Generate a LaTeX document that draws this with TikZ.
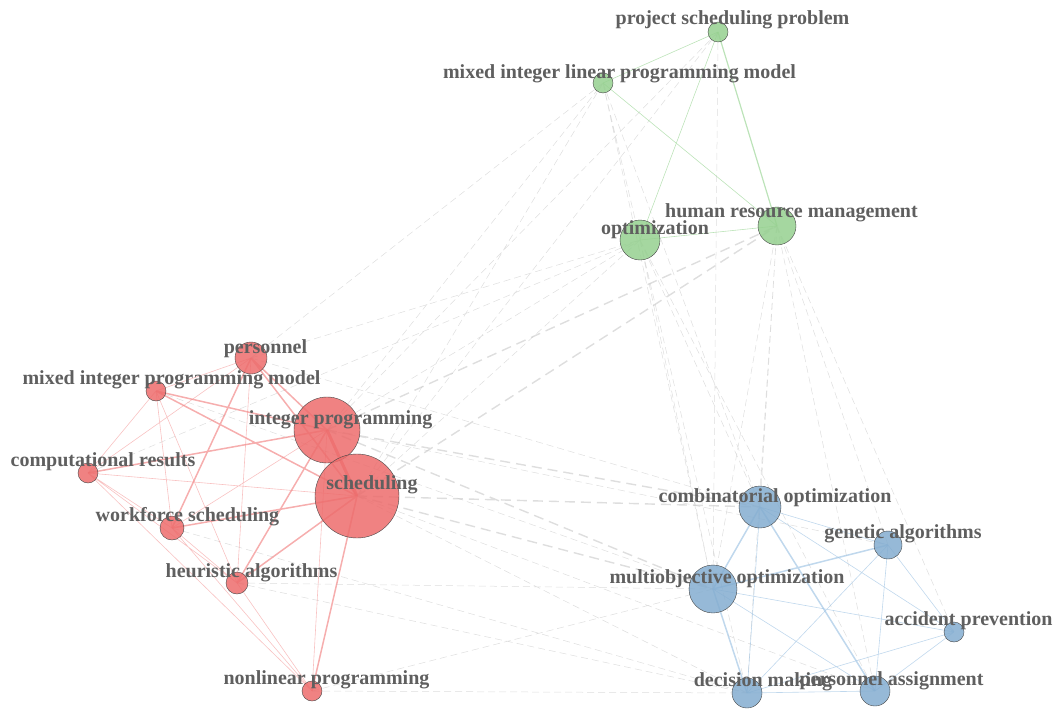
\documentclass[tikz,border=0pt]{standalone}
\usepackage{fontspec}
\setmainfont{Liberation Serif}
\usepackage{tikz}
\usetikzlibrary{backgrounds}
\definecolor{redNodeCol}{RGB}{237,108,108}
\definecolor{blueNodeCol}{RGB}{132,173,208}
\definecolor{greenNodeCol}{RGB}{149,208,143}
\definecolor{nodeLineCol}{RGB}{70,70,70}
\definecolor{labelCol}{RGB}{95,95,95}
\definecolor{redEdgeCol}{RGB}{240,120,120}
\definecolor{blueEdgeCol}{RGB}{150,190,225}
\definecolor{greenEdgeCol}{RGB}{160,215,155}
\definecolor{grayEdgeCol}{RGB}{200,200,200}
\tikzset{myNode/.style={circle, inner sep=0pt, draw=nodeLineCol, line width=0.4pt, fill opacity=0.85}}
\tikzset{myRed/.style={myNode, fill=redNodeCol}}
\tikzset{myBlue/.style={myNode, fill=blueNodeCol}}
\tikzset{myGreen/.style={myNode, fill=greenNodeCol}}
\tikzset{myLabel/.style={font=\fontsize{20}{24}\selectfont\bfseries, text=labelCol, anchor=base, inner sep=0pt}}
\tikzset{myRedEdge/.style={draw=redEdgeCol, draw opacity=0.45, line width=0.6pt}}
\tikzset{myBlueEdge/.style={draw=blueEdgeCol, draw opacity=0.6, line width=0.6pt}}
\tikzset{myGreenEdge/.style={draw=greenEdgeCol, draw opacity=0.7, line width=0.6pt}}
\tikzset{myGrayEdge/.style={draw=grayEdgeCol, draw opacity=0.6, line width=0.5pt, dash pattern=on 7pt off 4pt}}

\begin{document}
\begin{tikzpicture}[x=1pt,y=-1pt]
	\useasboundingbox (0,0) rectangle (1055,709);

	% red cluster
	\node[myRed, minimum size=32pt] (per) at (251,358) {};
	\node[myRed, minimum size=20pt] (mipm) at (156,391) {};
	\node[myRed, minimum size=66pt] (ipg) at (327,430) {};
	\node[myRed, minimum size=20pt] (comp) at (88,473) {};
	\node[myRed, minimum size=84pt] (sch) at (357,496) {};
	\node[myRed, minimum size=24pt] (wfs) at (172,528) {};
	\node[myRed, minimum size=22pt] (heu) at (237,583) {};
	\node[myRed, minimum size=20pt] (nlp) at (312,691) {};

	% blue cluster
	\node[myBlue, minimum size=42pt] (cmb) at (760,507) {};
	\node[myBlue, minimum size=28pt] (gen) at (888,545) {};
	\node[myBlue, minimum size=48pt] (mob) at (713,589) {};
	\node[myBlue, minimum size=20pt] (acc) at (954,632) {};
	\node[myBlue, minimum size=30pt] (dec) at (747,693) {};
	\node[myBlue, minimum size=30pt] (pas) at (875,691) {};

	% green cluster
	\node[myGreen, minimum size=20pt] (psp) at (718,32) {};
	\node[myGreen, minimum size=20pt] (milp) at (603,83) {};
	\node[myGreen, minimum size=40pt] (opt) at (640,240) {};
	\node[myGreen, minimum size=38pt] (hrm) at (777,226) {};

	\begin{scope}[on background layer]
	%links between clusters
	\draw[myGrayEdge] (ipg.center)--(milp.center) (sch.center)--(milp.center) (ipg.center)--(psp.center) (sch.center)--(psp.center)
		(ipg.center)--(opt.center) (sch.center)--(opt.center) (per.center)--(opt.center) (per.center)--(milp.center)
		(sch.center)--(dec.center) (sch.center)--(pas.center) (ipg.center)--(gen.center) (per.center)--(cmb.center)
		(heu.center)--(mob.center) (heu.center)--(dec.center) (nlp.center)--(dec.center) (nlp.center)--(mob.center)
		(mipm.center)--(mob.center) (wfs.center)--(dec.center) (comp.center)--(opt.center)
		(opt.center)--(cmb.center) (opt.center)--(mob.center) (opt.center)--(dec.center) (opt.center)--(pas.center)
		(hrm.center)--(cmb.center) (hrm.center)--(mob.center) (hrm.center)--(gen.center) (hrm.center)--(acc.center)
		(hrm.center)--(pas.center) (hrm.center)--(dec.center) (milp.center)--(opt.center) (milp.center)--(cmb.center)
		(milp.center)--(mob.center) (psp.center)--(mob.center);
	\draw[myGrayEdge, line width=1.4pt, dash pattern=on 10pt off 6pt] (ipg.center)--(hrm.center) (sch.center)--(hrm.center)
		(ipg.center)--(cmb.center) (sch.center)--(mob.center) (sch.center)--(cmb.center) (ipg.center)--(mob.center);
	%red links
	\draw[myRedEdge] (per.center)--(mipm.center) (per.center)--(comp.center) (per.center)--(heu.center)
		(mipm.center)--(comp.center) (mipm.center)--(wfs.center) (mipm.center)--(heu.center)
		(comp.center)--(sch.center) (comp.center)--(wfs.center) (comp.center)--(heu.center) (comp.center)--(nlp.center)
		(wfs.center)--(ipg.center) (wfs.center)--(heu.center) (wfs.center)--(nlp.center) (heu.center)--(nlp.center)
		(ipg.center)--(nlp.center);
	\draw[myRedEdge, line width=1.5pt, draw opacity=0.6] (per.center)--(ipg.center) (per.center)--(sch.center)
		(mipm.center)--(ipg.center) (mipm.center)--(sch.center) (sch.center)--(wfs.center) (sch.center)--(heu.center)
		(ipg.center)--(heu.center) (sch.center)--(nlp.center) (per.center)--(wfs.center) (comp.center)--(ipg.center);
	\draw[myRedEdge, line width=3pt, draw opacity=0.8] (ipg.center)--(sch.center);
	%blue links
	\draw[myBlueEdge] (cmb.center)--(acc.center) (mob.center)--(acc.center) (gen.center)--(dec.center) (gen.center)--(pas.center)
		(gen.center)--(acc.center) (acc.center)--(dec.center) (acc.center)--(pas.center) (cmb.center)--(gen.center)
		(cmb.center)--(dec.center) (mob.center)--(pas.center) (dec.center)--(pas.center);
	\draw[myBlueEdge, line width=1.5pt] (cmb.center)--(mob.center) (cmb.center)--(pas.center) (mob.center)--(gen.center)
		(mob.center)--(dec.center);
	%green links
	\draw[myGreenEdge] (psp.center)--(milp.center) (psp.center)--(opt.center) (milp.center)--(hrm.center) (opt.center)--(hrm.center);
	\draw[myGreenEdge, line width=1.2pt] (psp.center)--(hrm.center);
	\end{scope}

	% labels
	\node[myLabel] (per-l) at (265.5,353) {personnel};
	\node[myLabel] (mipm-l) at (171.5,384) {mixed integer programming model};
	\node[myLabel] (ipg-l) at (340.5,424) {integer programming};
	\node[myLabel] (comp-l) at (103,466) {computational results};
	\node[myLabel] (sch-l) at (372,489) {scheduling};
	\node[myLabel] (wfs-l) at (187.5,521) {workforce scheduling};
	\node[myLabel] (heu-l) at (251.5,577) {heuristic algorithms};
	\node[myLabel] (nlp-l) at (326.5,684) {nonlinear programming};
	\node[myLabel] (cmb-l) at (775,502) {combinatorial optimization};
	\node[myLabel] (gen-l) at (903,538) {genetic algorithms};
	\node[myLabel] (mob-l) at (727,583) {multiobjective optimization};
	\node[myLabel] (acc-l) at (968.5,625) {accident prevention};
	\node[myLabel] (dec-l) at (763,686) {decision making};
	\node[myLabel] (pas-l) at (891.5,685) {personnel assignment};
	\node[myLabel] (psp-l) at (732.5,25) {project scheduling problem};
	\node[myLabel] (milp-l) at (619.5,78) {mixed integer linear programming model};
	\node[myLabel] (opt-l) at (655,234) {optimization};
	\node[myLabel] (hrm-l) at (791.5,217) {human resource management};
\end{tikzpicture}
\end{document}
